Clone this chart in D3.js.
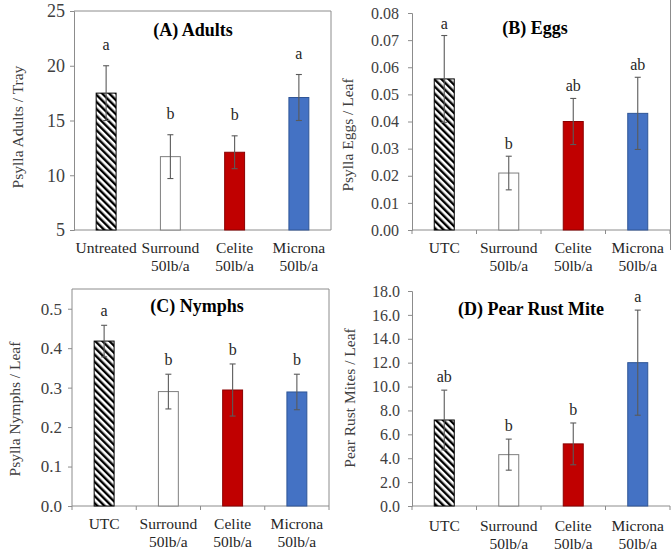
<!DOCTYPE html>
<html>
<head>
<meta charset="utf-8">
<script src="https://cdn.jsdelivr.net/npm/d3@7"></script>
<style>
  body { margin: 0; background: #fff; }
  svg { display: block; font-family: "Liberation Serif", "Times New Roman", serif; }
</style>
</head>
<body>
<svg id="fig" width="672" height="552"></svg>
<script>
// treatments (A uses "Untreated", the rest "UTC")
var treatmentsA = [["Untreated"], ["Surround", "50lb/a"], ["Celite", "50lb/a"], ["Microna", "50lb/a"]];
var treatments = [["UTC"], ["Surround", "50lb/a"], ["Celite", "50lb/a"], ["Microna", "50lb/a"]];

var adultsMean = [17.5, 11.7, 12.1, 17.1];
var adultsErr = [2.5, 2.0, 1.5, 2.1];
var adultsLetters = ["a", "b", "b", "a"];
var adultsTicks = [5, 10, 15, 20, 25];

var eggsMean = [0.0557, 0.021, 0.040, 0.043];
var eggsErr = [0.016, 0.0062, 0.0085, 0.0133];
var eggsLetters = ["a", "b", "ab", "ab"];
var eggsTicks = [0, 0.01, 0.02, 0.03, 0.04, 0.05, 0.06, 0.07, 0.08];

var nymphsMean = [0.418, 0.290, 0.294, 0.289];
var nymphsErr = [0.040, 0.044, 0.066, 0.045];
var nymphsLetters = ["a", "b", "b", "b"];
var nymphsTicks = [0, 0.1, 0.2, 0.3, 0.4, 0.5];

var mitesMean = [7.2, 4.3, 5.2, 12.0];
var mitesErr = [2.5, 1.3, 1.75, 4.4];
var mitesLetters = ["ab", "b", "b", "a"];
var mitesTicks = [0, 2, 4, 6, 8, 10, 12, 14, 16, 18];

var fills = ["url(#hatch)", "#ffffff", "#c00000", "#4472c4"];
var strokes = ["#000000", "#7f7f7f", "#8b0000", "#2f5597"];

var svg = d3.select("#fig");

// diagonal hatch for the untreated bar
var pat = svg.append("defs").append("pattern")
    .attr("id", "hatch")
    .attr("patternUnits", "userSpaceOnUse")
    .attr("width", 5)
    .attr("height", 5)
    .attr("patternTransform", "rotate(-45)");
pat.append("rect").attr("width", 5).attr("height", 5).attr("fill", "#fff");
pat.append("rect").attr("width", 2.4).attr("height", 5).attr("fill", "#000");

var axisColor = "#8c8c8c";

function panel(opt) {
    var g = svg.append("g");
    var x = d3.scaleBand().domain(d3.range(opt.mean.length)).range([opt.x0, opt.x1]);
    var y = d3.scaleLinear().domain(opt.domain).range([opt.y0, opt.y1]);
    var bw = x.bandwidth() * 0.31;

    // plot-area box (A and C)
    if (opt.box) {
        g.append("path")
            .attr("d", "M" + opt.x0 + "," + y(opt.domain[1]) + "H" + opt.x1 + "V" + opt.y0)
            .attr("fill", "none").attr("stroke", axisColor);
    }

    // y axis
    var yAxis = g.append("g")
        .attr("transform", "translate(" + opt.x0 + ",0)")
        .call(d3.axisLeft(y).tickValues(opt.ticks).tickFormat(d3.format(opt.fmt)).tickSizeOuter(0).tickSize(4).tickPadding(opt.pad));
    yAxis.select(".domain").attr("stroke", axisColor);
    yAxis.selectAll(".tick line").attr("stroke", axisColor);
    yAxis.selectAll(".tick text")
        .attr("font-family", "Liberation Serif")
        .attr("font-size", opt.tickSize)
        .attr("fill", "#404040");
    if (opt.domain[1] > opt.ticks[opt.ticks.length - 1]) {
        yAxis.select(".domain").attr("d", "M0," + opt.y0 + "V" + opt.y1);
    }

    // x axis line + boundary ticks
    g.append("line")
        .attr("x1", opt.x0).attr("x2", opt.x1)
        .attr("y1", opt.y0).attr("y2", opt.y0)
        .attr("stroke", axisColor);
    if (opt.xTicks) {
        g.selectAll(".xt").data(d3.range(opt.mean.length + 1)).enter().append("line")
            .attr("x1", function (d) { return opt.x0 + d * x.step(); })
            .attr("x2", function (d) { return opt.x0 + d * x.step(); })
            .attr("y1", opt.y0).attr("y2", opt.y0 + 4)
            .attr("stroke", axisColor);
    }

    // bars
    g.selectAll(".bar").data(opt.mean).enter().append("rect")
        .attr("x", function (d, i) { return x(i) + x.bandwidth() / 2 - bw / 2; })
        .attr("y", function (d) { return y(d); })
        .attr("width", bw)
        .attr("height", function (d) { return opt.y0 - y(d); })
        .attr("fill", function (d, i) { return fills[i]; })
        .attr("stroke", function (d, i) { return strokes[i]; })
        .attr("stroke-width", 1);

    // error bars
    var eb = g.selectAll(".err").data(opt.mean).enter().append("g")
        .attr("stroke", "#5a5a5a").attr("stroke-width", 1.1);
    eb.append("line")
        .attr("x1", function (d, i) { return x(i) + x.bandwidth() / 2; })
        .attr("x2", function (d, i) { return x(i) + x.bandwidth() / 2; })
        .attr("y1", function (d, i) { return y(d + opt.err[i]); })
        .attr("y2", function (d, i) { return y(d - opt.err[i]); });
    [1, -1].forEach(function (s) {
        eb.append("line")
            .attr("x1", function (d, i) { return x(i) + x.bandwidth() / 2 - 3; })
            .attr("x2", function (d, i) { return x(i) + x.bandwidth() / 2 + 3; })
            .attr("y1", function (d, i) { return y(d + s * opt.err[i]); })
            .attr("y2", function (d, i) { return y(d + s * opt.err[i]); });
    });

    // significance letters
    g.selectAll(".let").data(opt.mean).enter().append("text")
        .attr("x", function (d, i) { return x(i) + x.bandwidth() / 2; })
        .attr("y", function (d, i) { return y(d + opt.err[i]) - opt.gap; })
        .attr("text-anchor", "middle")
        .attr("font-size", 16)
        .attr("fill", "#262626")
        .text(function (d, i) { return opt.letters[i]; });

    // category labels
    var cat = g.selectAll(".cat").data(opt.cats).enter().append("text")
        .attr("x", function (d, i) { return x(i) + x.bandwidth() / 2; })
        .attr("y", opt.y0 + opt.catDy)
        .attr("text-anchor", "middle")
        .attr("font-size", 15.5)
        .attr("fill", "#262626");
    cat.selectAll("tspan").data(function (d) { return d; }).enter().append("tspan")
        .attr("x", function () { return this.parentNode.getAttribute("x"); })
        .attr("dy", function (d, j) { return j === 0 ? 0 : 18; })
        .text(function (d) { return d; });

    // y title
    g.append("text")
        .attr("transform", "translate(" + opt.titleX + "," + opt.titleY + ") rotate(-90)")
        .attr("text-anchor", "middle")
        .attr("font-size", 15.5)
        .attr("fill", "#404040")
        .text(opt.ylabel);

    // panel title
    g.append("text")
        .attr("x", opt.headX).attr("y", opt.headY)
        .attr("text-anchor", "middle")
        .attr("font-size", 18)
        .attr("font-weight", "bold")
        .attr("fill", "#000")
        .text(opt.head);
}

panel({ mean: adultsMean, err: adultsErr, letters: adultsLetters, cats: treatmentsA,
    domain: [5, 25], ticks: adultsTicks, fmt: "d", x0: 74, x1: 331, y0: 230, y1: 11,
    box: true, xTicks: false, pad: 5, tickSize: 18, gap: 16, catDy: 23,
    ylabel: "Psylla Adults / Tray", titleX: 23, titleY: 127,
    head: "(A) Adults", headX: 193, headY: 36 });

panel({ mean: eggsMean, err: eggsErr, letters: eggsLetters, cats: treatments,
    domain: [0, 0.08], ticks: eggsTicks, fmt: ".2f", x0: 412, x1: 670, y0: 230, y1: 13,
    box: false, xTicks: true, pad: 9, tickSize: 16, gap: 7, catDy: 23,
    ylabel: "Psylla Eggs / Leaf", titleX: 353, titleY: 135,
    head: "(B) Eggs", headX: 535, headY: 34 });

panel({ mean: nymphsMean, err: nymphsErr, letters: nymphsLetters, cats: treatments,
    domain: [0, 0.55], ticks: nymphsTicks, fmt: ".1f", x0: 72, x1: 329, y0: 506, y1: 289,
    box: true, xTicks: true, pad: 6, tickSize: 17, gap: 9, catDy: 23,
    ylabel: "Psylla Nymphs / Leaf", titleX: 20, titleY: 409,
    head: "(C) Nymphs", headX: 197, headY: 312 });

panel({ mean: mitesMean, err: mitesErr, letters: mitesLetters, cats: treatments,
    domain: [0, 18], ticks: mitesTicks, fmt: ".1f", x0: 412, x1: 670, y0: 506, y1: 291,
    box: false, xTicks: true, pad: 8, tickSize: 16, gap: 8, catDy: 25,
    ylabel: "Pear Rust Mites / Leaf", titleX: 355, titleY: 398,
    head: "(D) Pear Rust Mite", headX: 531, headY: 315 });

// right border line of the figure next to panel B
svg.append("line")
    .attr("x1", 670.5).attr("x2", 670.5)
    .attr("y1", 0).attr("y2", 250)
    .attr("stroke", axisColor);
</script>
</body>
</html>
